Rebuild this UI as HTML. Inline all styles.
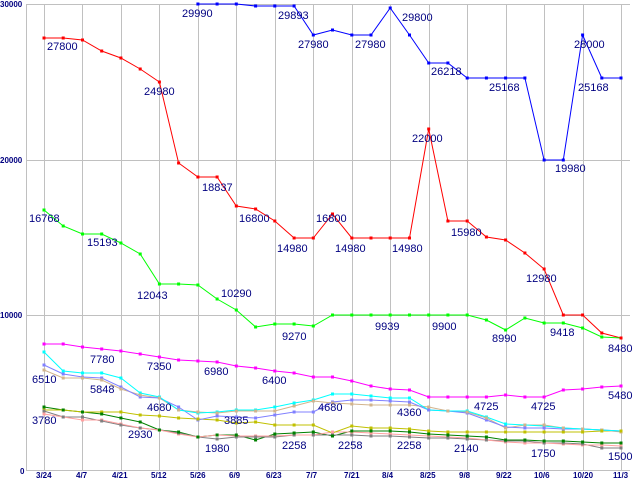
<!DOCTYPE html>
<html><head><meta charset="utf-8"><style>
html,body{margin:0;padding:0;background:#fff;width:640px;height:480px;overflow:hidden}
svg{display:block}
.l{font-family:"Liberation Sans",sans-serif;font-size:11px;fill:#000080}
.a{font-family:"Liberation Sans",sans-serif;font-size:8px;font-weight:bold;fill:#000080}
</style></head><body>
<svg id="c" width="640" height="480" xmlns="http://www.w3.org/2000/svg">
<g id="grid" stroke="#c0c0c0" stroke-width="1"></g>
<line x1="26.5" y1="4" x2="26.5" y2="470" stroke="#c0c0c0"/>
<line x1="26" y1="470.5" x2="630" y2="470.5" stroke="#c0c0c0"/>
<g id="series"></g>
<g class="a">
<text x="0" y="7">30000</text><text x="0" y="163">20000</text><text x="0" y="318">10000</text><text x="20" y="474">0</text>
<text x="36" y="478">3/24</text><text x="76" y="478">4/7</text><text x="112" y="478">4/21</text><text x="151" y="478">5/12</text>
<text x="190" y="478">5/26</text><text x="229" y="478">6/9</text><text x="266" y="478">6/23</text><text x="306" y="478">7/7</text>
<text x="344" y="478">7/21</text><text x="382" y="478">8/4</text><text x="420" y="478">8/25</text><text x="459" y="478">9/8</text>
<text x="496" y="478">9/22</text><text x="534" y="478">10/6</text><text x="573" y="478">10/20</text><text x="613" y="478">11/3</text>
</g>
<g class="l">
<text x="47" y="50">27800</text><text x="182" y="17">29990</text><text x="278" y="19">29893</text><text x="298" y="48">27980</text>
<text x="355" y="48">27980</text><text x="402" y="21">29800</text><text x="431" y="75">26218</text><text x="489" y="91">25168</text>
<text x="574" y="48">28000</text><text x="578" y="91">25168</text><text x="144" y="95">24980</text><text x="555" y="172">19980</text>
<text x="412" y="142">22000</text><text x="202" y="191">18837</text><text x="239" y="222">16800</text><text x="29" y="222">16768</text>
<text x="316" y="222">16800</text><text x="87" y="246">15193</text><text x="277" y="252">14980</text><text x="335" y="252">14980</text>
<text x="392" y="252">14980</text><text x="451" y="236">15980</text><text x="526" y="282">12980</text><text x="137" y="299">12043</text>
<text x="221" y="297">10290</text><text x="282" y="340">9270</text><text x="375" y="330">9939</text><text x="432" y="330">9900</text>
<text x="492" y="342">8990</text><text x="550" y="336">9418</text><text x="608" y="352">8480</text>
<text x="90" y="363">7780</text><text x="147" y="370">7350</text><text x="204" y="375">6980</text><text x="262" y="384">6400</text>
<text x="32" y="383">6510</text><text x="90" y="393">5848</text><text x="147" y="411">4680</text><text x="224" y="424">3885</text>
<text x="32" y="424">3780</text><text x="128" y="438">2930</text><text x="205" y="452">1980</text><text x="282" y="449">2258</text>
<text x="318" y="411">4680</text><text x="397" y="416">4360</text><text x="474" y="410">4725</text><text x="531" y="410">4725</text>
<text x="608" y="399">5480</text><text x="338" y="449">2258</text><text x="397" y="449">2258</text><text x="454" y="452">2140</text>
<text x="531" y="457">1750</text><text x="608" y="460">1500</text>
</g>
</svg>
<script>
var NS="http://www.w3.org/2000/svg";
var g=document.getElementById('grid');
function ln(p,a){var e=document.createElementNS(NS,'line');for(var k in a)e.setAttribute(k,a[k]);p.appendChild(e);}
[4,160,315].forEach(function(y){ln(g,{x1:26,y1:y+.5,x2:630,y2:y+.5});});
for(var i=0;i<16;i++){var x=Math.round(44+i*38.47)+.5;ln(g,{x1:x,y1:4,x2:x,y2:470});}
var S=[
["#ff00ff",[344,344,347,349,351,354,357,360,361,362,366,368,371,373,377,377,381,386,389,390,397,397,397,397,395,397,397,390,389,387,386]],
["#00ffff",[352,371,373,373,378,393,397,410,413,412,410,410,407,403,400,394,394,396,398,398,410,411,411,417,424,425,426,428,429,430,431]],
["#8080ff",[365,374,377,378,387,397,398,407,420,416,417,418,415,412,412,402,400,400,401,402,410,411,413,420,427,428,428,429,429,430,431]],
["#d2b48c",[370,378,378,380,389,395,398,410,412,413,411,411,411,406,401,403,404,405,405,405,407,411,412,418,428,425,425,428,429,430,432]],
["#c0c000",[410,410,412,412,412,415,416,418,419,420,423,422,425,425,425,433,426,428,428,429,431,432,432,432,432,432,432,432,432,431,431]],
["#ffa0a0",[414,417,420,420,424,428,430,434,437,435,436,436,436,435,435,432,432,433,434,435,436,437,438,440,442,443,443,444,445,445,446]],
["#808080",[411,417,417,421,425,428,430,433,437,439,437,437,437,435,435,435,435,436,436,437,438,438,439,440,441,441,443,443,444,448,448]],
["#008000",[407,410,412,414,418,422,430,432,437,435,435,440,434,433,432,436,431,431,431,432,434,435,436,437,440,440,441,441,442,443,443]],
["#00ff00",[210,226,234,234,243,254,284,284,285,299,310,327,324,324,326,315,315,315,315,315,315,315,315,320,330,318,323,323,328,337,338]],
["#ff0000",[38,38,40,51,58,69,82,163,177,177,206,209,221,238,238,214,238,238,238,238,129,221,221,237,240,253,269,315,315,333,338]],
["#0000ff",[null,null,null,null,null,null,null,null,4,4,4,6,6,6,35,30,35,35,8,35,63,63,78,78,78,78,160,160,35,78,78]]
];
var sg=document.getElementById('series');
S.forEach(function(s){var pts=[];s[1].forEach(function(y,i){if(y==null)return;var x=44+i*19.235;pts.push(x.toFixed(1)+","+y);
var r=document.createElementNS(NS,'rect');r.setAttribute('x',(x-1.5).toFixed(1));r.setAttribute('y',y-1.5);r.setAttribute('width',3);r.setAttribute('height',3);r.setAttribute('fill',s[0]);sg.appendChild(r);});
var p=document.createElementNS(NS,'polyline');p.setAttribute('points',pts.join(' '));p.setAttribute('fill','none');p.setAttribute('stroke',s[0]);p.setAttribute('stroke-width','1');sg.insertBefore(p,sg.firstChild);});
</script>
</body></html>
